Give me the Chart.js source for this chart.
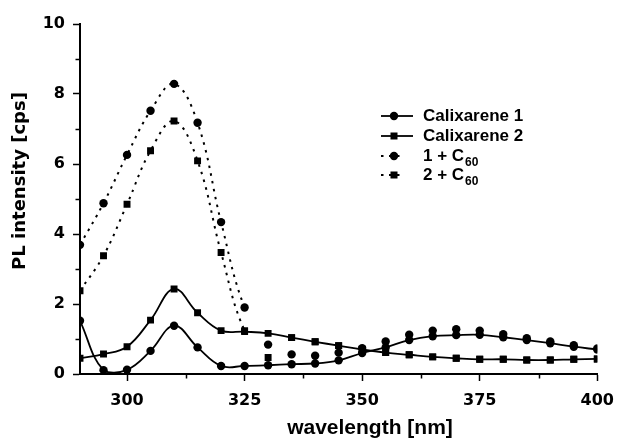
<!DOCTYPE html>
<html>
<head>
<meta charset="utf-8">
<script src="https://cdn.jsdelivr.net/npm/chart.js@4/dist/chart.umd.min.js"></script>
<style>
  html, body { margin: 0; padding: 0; background: #fff; }
  #wrap { width: 624px; height: 439px; }
</style>
</head>
<body>
<div id="wrap"><canvas id="chart" width="624" height="439"></canvas></div>
<script>
// wavelength [nm]
const wavelengths = [290, 295, 300, 305, 310, 315, 320, 325, 330, 335, 340, 345,
                     350, 355, 360, 365, 370, 375, 380, 385, 390, 395, 400];

const calix1 = [1.52, 0.11, 0.12, 0.66, 1.38, 0.76, 0.23, 0.23, 0.25, 0.28, 0.30, 0.39,
                0.60, 0.76, 0.97, 1.08, 1.11, 1.12, 1.05, 0.97, 0.88, 0.78, 0.70];
const calix2 = [0.45, 0.57, 0.78, 1.54, 2.43, 1.75, 1.24, 1.21, 1.16, 1.04, 0.92, 0.81,
                0.70, 0.61, 0.55, 0.49, 0.45, 0.42, 0.42, 0.40, 0.40, 0.42, 0.43];
const c60one = [3.69, 4.88, 6.26, 7.52, 8.29, 7.18, 4.34, 1.90, 0.84, 0.56, 0.52, 0.61,
                0.74, 0.93, 1.12, 1.24, 1.28, 1.24, 1.14, 1.02, 0.93, 0.82, 0.73];
const c60two = [2.38, 3.38, 4.85, 6.38, 7.23, 6.09, 3.47, 1.24, 0.47, 1.04, 0.92, 0.81,
                0.70, 0.61, 0.55, 0.49, 0.45, 0.42, 0.42, 0.40, 0.40, 0.42, 0.43];

const xTitle = 'wavelength [nm]';
const yTitle = 'PL intensity [cps]';

const legendRows = [
  { text: 'Calixarene 1', sub: '', marker: 'circle', dotted: false },
  { text: 'Calixarene 2', sub: '', marker: 'rect', dotted: false },
  { text: '1 + C', sub: '60', marker: 'circle', dotted: true },
  { text: '2 + C', sub: '60', marker: 'rect', dotted: true }
];

const DOTS = [2.5, 5.5];
const DOTTED_END = 325; // dotted curves are only drawn up to here

function pts(arr) {
  return wavelengths.map((x, i) => ({ x: x, y: arr[i] }));
}

function series(label, arr, marker, dotted) {
  const ds = {
    label: label,
    data: pts(arr),
    borderColor: '#000',
    backgroundColor: '#000',
    borderWidth: dotted ? 2 : 1.8,
    pointStyle: marker,
    pointRadius: marker === 'rect' ? 4.9 : 4.2,
    pointBorderWidth: 0,
    pointBackgroundColor: '#000',
    tension: 0.4,
    fill: false
  };
  if (dotted) {
    ds.borderDash = DOTS;
    ds.segment = {
      borderColor: c => (c.p0.parsed.x >= DOTTED_END ? 'rgba(0,0,0,0)' : '#000')
    };
  }
  return ds;
}

const isMajorX = v => v % 25 === 0;
const isMajorY = v => v % 2 === 0;

// legend, axis titles and short minor ticks drawn by hand
const decorPlugin = {
  id: 'decor',
  afterDatasetsDraw(chart) {
    const ctx = chart.ctx;
    const xs = chart.scales.x, yscale = chart.scales.y;

    ctx.save();
    ctx.strokeStyle = '#000';
    ctx.lineWidth = 1.5;
    ctx.beginPath();
    xs.ticks.forEach(t => {
      if (isMajorX(t.value) || t.value === 290) return;
      const px = Math.round(xs.getPixelForValue(t.value)) + 0.5;
      ctx.moveTo(px, yscale.bottom);
      ctx.lineTo(px, yscale.bottom + 4.5);
    });
    yscale.ticks.forEach(t => {
      if (isMajorY(t.value)) return;
      const py = Math.round(yscale.getPixelForValue(t.value)) + 0.5;
      ctx.moveTo(xs.left, py);
      ctx.lineTo(xs.left - 4.5, py);
    });
    ctx.stroke();
    ctx.restore();

    const x0 = 381, x1 = 413, mx = 394, tx = 423;
    const ys = [116, 136, 156, 175];
    legendRows.forEach((r, i) => {
      const y = ys[i];
      ctx.save();
      ctx.strokeStyle = '#000';
      ctx.fillStyle = '#000';
      ctx.lineWidth = r.dotted ? 2 : 1.8;
      ctx.setLineDash(r.dotted ? DOTS : []);
      ctx.beginPath();
      ctx.moveTo(x0, y);
      ctx.lineTo(r.dotted ? 405 : x1, y);
      ctx.stroke();
      ctx.setLineDash([]);
      if (r.marker === 'circle') {
        ctx.beginPath();
        ctx.arc(mx, y, 4.2, 0, Math.PI * 2);
        ctx.fill();
      } else {
        ctx.fillRect(mx - 3.5, y - 3.5, 7, 7);
      }
      ctx.textBaseline = 'middle';
      ctx.font = 'bold 17px "Liberation Sans", Arial, sans-serif';
      ctx.fillText(r.text, tx, y);
      if (r.sub) {
        const w = ctx.measureText(r.text).width;
        ctx.font = 'bold 12px "Liberation Sans", Arial, sans-serif';
        ctx.fillText(r.sub, tx + w + 1, y + 7);
      }
      ctx.restore();
    });

    ctx.save();
    ctx.fillStyle = '#000';
    ctx.textAlign = 'center';
    ctx.textBaseline = 'middle';
    ctx.font = 'bold 21px "Liberation Sans", Arial, sans-serif';
    ctx.fillText(xTitle, 370, 428);
    ctx.translate(20, 181);
    ctx.rotate(-Math.PI / 2);
    ctx.font = 'bold 18px "DejaVu Sans", sans-serif';
    ctx.fillText(yTitle, 0, 0);
    ctx.restore();
  }
};

const tickFont = { family: '"DejaVu Sans", sans-serif', weight: 'bold', size: 16 };

new Chart(document.getElementById('chart'), {
  type: 'line',
  data: {
    datasets: [
      series('Calixarene 1', calix1, 'circle', false),
      series('Calixarene 2', calix2, 'rect', false),
      series('1 + C60', c60one, 'circle', true),
      series('2 + C60', c60two, 'rect', true)
    ]
  },
  options: {
    responsive: false,
    animation: false,
    layout: { padding: { top: 24, right: 20, left: 0, bottom: 0 } },
    plugins: {
      legend: { display: false },
      tooltip: { enabled: false }
    },
    scales: {
      x: {
        type: 'linear',
        min: 290,
        max: 400,
        afterFit: s => { s.height = 65; },
        border: { color: '#000', width: 2 },
        grid: {
          drawOnChartArea: false,
          tickLength: 7,
          tickWidth: 1.5,
          tickColor: c => (c.tick && isMajorX(c.tick.value) ? '#000' : 'rgba(0,0,0,0)')
        },
        ticks: {
          stepSize: 12.5,
          color: '#000',
          font: tickFont,
          padding: 10,
          maxRotation: 0,
          autoSkip: false,
          callback: v => (isMajorX(v) ? v : '')
        }
      },
      y: {
        min: 0,
        max: 10,
        afterFit: s => { s.width = 80; },
        border: { color: '#000', width: 2 },
        grid: {
          drawOnChartArea: false,
          tickLength: 7,
          tickWidth: 1.5,
          tickColor: c => (c.tick && isMajorY(c.tick.value) ? '#000' : 'rgba(0,0,0,0)')
        },
        ticks: {
          stepSize: 1,
          color: '#000',
          font: tickFont,
          padding: 8,
          autoSkip: false,
          callback: v => (isMajorY(v) ? v : '')
        }
      }
    }
  },
  plugins: [decorPlugin]
});
</script>
</body>
</html>
